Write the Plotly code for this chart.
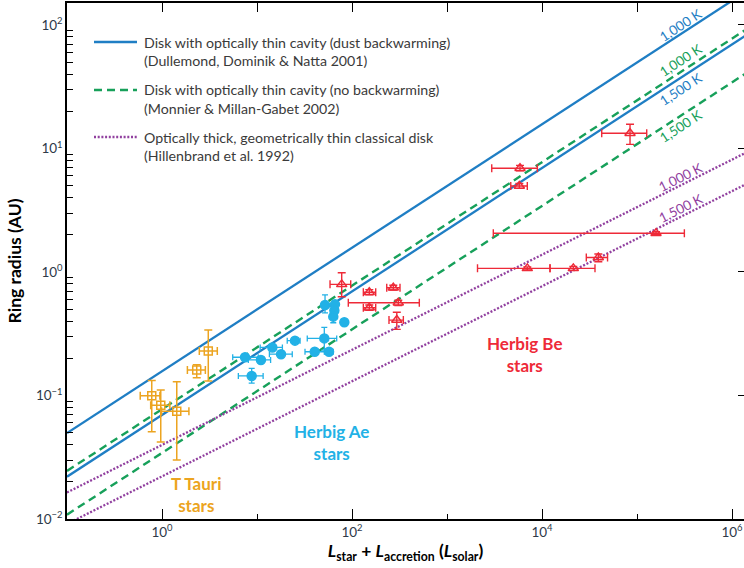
import numpy as np
import plotly.graph_objects as go

# ---------------- data ----------------
# T Tauri stars
tt_L = [3.07, 2.32, 0.78, 0.97, 1.43]
tt_L_lo = [2.47, 1.85, 0.59, 0.76, 0.99]
tt_L_hi = [3.82, 2.86, 0.95, 1.21, 1.92]
tt_R = [0.229, 0.161, 0.0995, 0.0834, 0.0745]
tt_R_lo = [0.131, 0.139, 0.0509, 0.042, 0.030]
tt_R_hi = [0.339, 0.177, 0.132, 0.111, 0.129]

# Herbig Ae stars
ae_L = [7.48, 11.0, 8.79, 14.5, 17.9, 25.1, 40.5, 51.1, 57.3, 83.0, 52.0, 66.2, 65.2, 63.5]
ae_L_lo = [5.55, 8.1, 6.36, 10.8, 13.5, 20.8, 32.0, 33.8, 51.1, 79.0, 49.0, 63.0, 62.0, 60.0]
ae_L_hi = [10.3, 13.9, 11.6, 18.5, 23.5, 28.4, 52.0, 69.0, 63.5, 87.0, 55.0, 70.0, 68.0, 67.0]
ae_R = [0.204, 0.194, 0.144, 0.245, 0.216, 0.278, 0.226, 0.290, 0.226, 0.392, 0.541, 0.547, 0.487, 0.435]
ae_R_lo = [0.204, 0.194, 0.126, 0.245, 0.216, 0.278, 0.226, 0.233, 0.226, 0.392, 0.466, 0.547, 0.487, 0.388]
ae_R_hi = [0.204, 0.194, 0.166, 0.245, 0.216, 0.278, 0.226, 0.356, 0.226, 0.392, 0.652, 0.547, 0.487, 0.508]

# Herbig Be stars
be_L = [77.9, 152, 272, 152, 307, 296, 5866, 5770, 84400, 158500, 39160, 21350, 7000]
be_L_lo = [58.7, 131.6, 232, 131.6, 91.4, 245, 2956, 4688, 42500, 3070, 29250, 12140, 2094]
be_L_hi = [96.9, 177.6, 320, 177.6, 511, 347, 8933, 7000, 126500, 315000, 48950, 36100, 12140]
be_R = [0.794, 0.686, 0.746, 0.514, 0.563, 0.408, 6.92, 4.97, 13.3, 2.06, 1.31, 1.07, 1.07]
be_R_lo = [0.631, 0.655, 0.715, 0.49, 0.535, 0.343, 6.6, 4.75, 10.8, 2.0, 1.21, 1.03, 1.04]
be_R_hi = [0.986, 0.72, 0.78, 0.54, 0.59, 0.472, 7.3, 5.2, 15.7, 2.12, 1.40, 1.11, 1.10]

# Model curves: ring radius at the two ends of the luminosity range
model_L = [0.1, 1.4e6]
dd_1000 = [0.0497, 186.0]   # Dullemond, Dominik & Natta 2001, 1,000 K
dd_1500 = [0.0220, 82.4]    # 1,500 K
mm_1000 = [0.0245, 91.8]    # Monnier & Millan-Gabet 2002, 1,000 K
mm_1500 = [0.01084, 40.6]   # 1,500 K
hb_1000 = [0.0164, 9.25]    # Hillenbrand et al. 1992, 1,000 K
hb_1500 = [0.00912, 5.14]   # 1,500 K

# luminosity at which each temperature label sits
label_L = 2.9e5

x_ticks = [1, 1e2, 1e4, 1e6]
x_ticktext = ["10<sup>0</sup>", "10<sup>2</sup>", "10<sup>4</sup>", "10<sup>6</sup>"]
y_ticks = [1e-2, 1e-1, 1, 10, 100]
y_ticktext = ["10<sup>\u22122</sup>", "10<sup>\u22121</sup>", "10<sup>0</sup>",
              "10<sup>1</sup>", "10<sup>2</sup>"]

# ---------------- styling ----------------
BLUE = "#1f7ec4"
GREEN = "#17a05a"
PURPLE = "#91409f"
RED = "#ee2a38"
CYAN = "#22b1e6"
ORANGE = "#eca420"
FONT = "Lato"
TXT = "#3a3a3a"

X_RANGE = [-1.0, 6.126]
Y_RANGE = [-2.0, 2.178]


def err(v, lo, hi):
    v = np.asarray(v, float)
    return dict(plus=(np.asarray(hi, float) - v).tolist(),
                minus=(v - np.asarray(lo, float)).tolist())


fig = go.Figure()

model_lines = [
    (dd_1000, BLUE, "solid", 2.3, "1,000 K", 9),
    (dd_1500, BLUE, "solid", 2.3, "1,500 K", -11),
    (mm_1000, GREEN, "8px,5px", 2.4, "1,000 K", 12),
    (mm_1500, GREEN, "8px,5px", 2.4, "1,500 K", -10),
    (hb_1000, PURPLE, "2px,1.7px", 2.3, "1,000 K", 8),
    (hb_1500, PURPLE, "2px,1.7px", 2.3, "1,500 K", 9),
]
for r, col, dash, w, _, _ in model_lines:
    fig.add_trace(go.Scatter(x=model_L, y=r, mode="lines",
                             line=dict(color=col, width=w, dash=dash),
                             showlegend=False, hoverinfo="skip"))


# Data points with asymmetric error bars
def add_points(L, Llo, Lhi, R, Rlo, Rhi, symbol, size, color, capw, lw):
    ex = err(L, Llo, Lhi)
    ey = err(R, Rlo, Rhi)
    fig.add_trace(go.Scatter(
        x=L, y=R, mode="markers",
        marker=dict(symbol=symbol, size=size, color=color,
                    line=dict(color=color, width=1.5)),
        error_x=dict(type="data", symmetric=False, array=ex["plus"],
                     arrayminus=ex["minus"], color=color, thickness=lw, width=capw),
        error_y=dict(type="data", symmetric=False, array=ey["plus"],
                     arrayminus=ey["minus"], color=color, thickness=lw, width=capw),
        showlegend=False, hoverinfo="skip"))


add_points(tt_L, tt_L_lo, tt_L_hi, tt_R, tt_R_lo, tt_R_hi,
           "square-open", 8, ORANGE, 4, 1.5)
add_points(ae_L, ae_L_lo, ae_L_hi, ae_R, ae_R_lo, ae_R_hi,
           "circle", 9, CYAN, 3, 1.3)
add_points(be_L, be_L_lo, be_L_hi, be_R, be_R_lo, be_R_hi,
           "triangle-up-open", 9, RED, 4, 1.4)

# invisible trace to activate the mirrored top/right axes
fig.add_trace(go.Scatter(x=[1], y=[1], xaxis="x2", yaxis="y2", mode="markers",
                         marker=dict(opacity=0), showlegend=False, hoverinfo="skip"))

# temperature labels along the model lines
x_pix_per_dec = 677 / (X_RANGE[1] - X_RANGE[0])
y_pix_per_dec = 516 / (Y_RANGE[1] - Y_RANGE[0])
for r, col, dash, w, text, shift in model_lines:
    slope = (np.log10(r[1]) - np.log10(r[0])) / (np.log10(model_L[1]) - np.log10(model_L[0]))
    ly = np.log10(r[0]) + slope * (np.log10(label_L) - np.log10(model_L[0]))
    ang = np.degrees(np.arctan(slope * y_pix_per_dec / x_pix_per_dec))
    fig.add_annotation(x=np.log10(label_L), y=ly, text=text, showarrow=False,
                       textangle=-ang, yshift=shift,
                       font=dict(family=FONT, size=13.5, color=col))

# group labels
for txt, lx, ly, col in [("Herbig Be<br>stars", 3.82, -0.664, RED),
                         ("Herbig Ae<br>stars", 1.786, -1.377, CYAN),
                         ("T Tauri<br>stars", 0.366, -1.803, ORANGE)]:
    fig.add_annotation(x=lx, y=ly, text=txt, showarrow=False,
                       font=dict(family=FONT, size=17, color=col, weight="bold"))


# legend (drawn in paper coordinates)
def px_x(p):
    return (p - 67) / 677


def px_y(p):
    return (519 - p) / 516


legend_rows = [
    (42, 61, BLUE, "solid", "Disk with optically thin cavity (dust backwarming)",
     "(Dullemond, Dominik & Natta 2001)"),
    (90, 108, GREEN, "8px,5px", "Disk with optically thin cavity (no backwarming)",
     "(Monnier & Millan-Gabet 2002)"),
    (137, 156, PURPLE, "2px,1.7px", "Optically thick, geometrically thin classical disk",
     "(Hillenbrand et al. 1992)"),
]
for y1, y2, col, dash, t1, t2 in legend_rows:
    fig.add_shape(type="line", xref="paper", yref="paper",
                  x0=px_x(94), x1=px_x(137), y0=px_y(y1), y1=px_y(y1),
                  line=dict(color=col, width=2.4, dash=dash))
    for yy, t in [(y1, t1), (y2, t2)]:
        fig.add_annotation(xref="paper", yref="paper", x=px_x(142), y=px_y(yy),
                           xanchor="left", yanchor="middle", text=t, showarrow=False,
                           font=dict(family=FONT, size=14.2, color=TXT))

axis_common = dict(type="log", showgrid=False, zeroline=False, showline=True,
                   linecolor="black", linewidth=1.5, tickcolor="black")

minor_y = [m * 10.0 ** e for e in range(-2, 3) for m in range(2, 10)]

fig.update_layout(
    width=744, height=568,
    margin=dict(l=67, r=0, t=3, b=49),
    paper_bgcolor="white", plot_bgcolor="white",
    font=dict(family=FONT, size=13, color=TXT),
    xaxis=dict(**axis_common, range=X_RANGE, tickmode="array", tickvals=x_ticks,
               ticktext=x_ticktext, ticks="inside", ticklen=10, tickwidth=1.3,
               minor=dict(tickmode="array", tickvals=[10, 1e3, 1e5], ticks="inside",
                          ticklen=5, tickwidth=1.3, tickcolor="black"),
               tickfont=dict(family=FONT, size=13.5, color="#2e3a48"),
               title=dict(text="<i>L</i><sub>star</sub> + <i>L</i><sub>accretion</sub> (<i>L</i><sub>solar</sub>)",
                          font=dict(family=FONT, size=17.5, color="black", weight="bold"),
                          standoff=6)),
    yaxis=dict(**axis_common, range=Y_RANGE, tickmode="array", tickvals=y_ticks,
               ticktext=y_ticktext, ticks="",
               minor=dict(tickmode="array", tickvals=minor_y, ticks="inside",
                          ticklen=6, tickwidth=1.3, tickcolor="black"),
               tickfont=dict(family=FONT, size=13.5, color="#2e3a48"),
               title=dict(text="Ring radius (AU)",
                          font=dict(family=FONT, size=17.5, color="black", weight="bold"),
                          standoff=10)),
    xaxis2=dict(**axis_common, range=X_RANGE, overlaying="x", side="top", anchor="y2",
                tickmode="array", tickvals=[1, 10, 1e2, 1e3, 1e4, 1e5, 1e6],
                ticks="inside", ticklen=9, tickwidth=1.3, showticklabels=False),
    yaxis2=dict(**axis_common, range=Y_RANGE, overlaying="y", side="right", anchor="x2",
                tickmode="array", tickvals=y_ticks, ticks="inside", ticklen=6,
                tickwidth=1.3, showticklabels=False),
)

fig.write_html("out.html")
